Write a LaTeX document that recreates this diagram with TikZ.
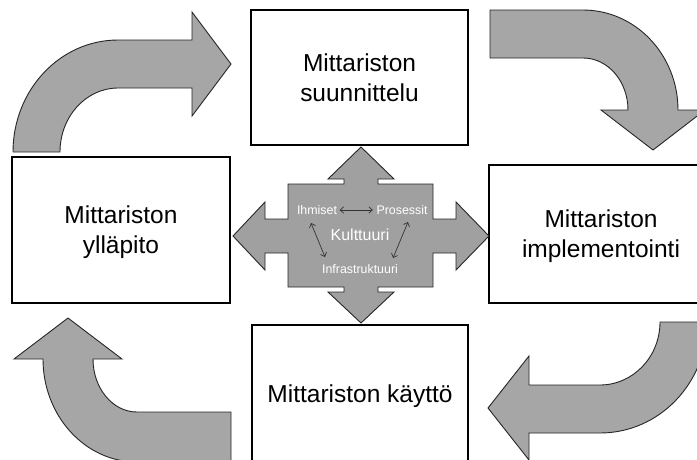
\documentclass[tikz,border=0pt]{standalone}
\usepackage{fontspec}
\setmainfont{Liberation Sans}
\usetikzlibrary{arrows.meta}
\definecolor{arrowgray}{RGB}{166,166,166}
\definecolor{hubgray}{RGB}{160,160,160}

\begin{document}
\begin{tikzpicture}[x=1pt,y=-1pt,
  box/.style={draw=black, line width=1.2pt, fill=white, align=center,
    text depth=0pt, inner sep=0pt, font=\fontsize{24.5}{30}\selectfont},
  turnarrow/.style={fill=arrowgray, draw=black!85, line width=0.9pt, line join=miter},
  hub/.style={fill=hubgray, draw=black!85, line width=0.9pt, line join=miter},
  small/.style={text=white, font=\fontsize{12.4}{14}\selectfont, inner sep=1.5pt},
  big/.style={text=white, font=\fontsize{16}{18}\selectfont, inner sep=1.5pt},
  link/.style={draw=black!80, line width=0.7pt,
    {Straight Barb[length=3.5pt,width=6.5pt]}-{Straight Barb[length=3.5pt,width=6.5pt]}}
]
\useasboundingbox (0,0) rectangle (697,459);
\clip (0,0) rectangle (697,459);

% curved arrows of the cycle
\path[turnarrow] (13,152) .. controls (13,90.1) and (60,40) .. (118,40)
  -- (192,40) -- (192,12) -- (231,64) -- (192,116) -- (192,88) -- (118,88)
  .. controls (86,88) and (60,116.7) .. (60,152) -- cycle;
\path[turnarrow] (490,10) -- (583,10) .. controls (635.5,10) and (678,54.8) .. (678,110)
  -- (705,110) -- (653,150) -- (601,110) -- (628,110)
  .. controls (628,81.3) and (607.9,58) .. (583,58) -- (490,58) -- cycle;
\path[turnarrow] (660,322) -- (707,322) .. controls (707,383.3) and (659.1,433) .. (600,433)
  -- (529,433) -- (529,460) -- (488,408) -- (529,356) -- (529,385) -- (600,385)
  .. controls (633.1,385) and (660,356.8) .. (660,322) -- cycle;
\path[turnarrow] (231,412) -- (137,412) .. controls (112.7,412) and (93,388.3) .. (93,359)
  -- (122,359) -- (68,318) -- (14,359) -- (43,359)
  .. controls (43,415.9) and (85.1,462) .. (137,462) -- (231,462) -- cycle;

% boxes
\node[box, minimum width=217pt, minimum height=135pt] (plan) at (359.5,77.5)
  {Mittariston\\suunnittelu};
\node[box, minimum width=218pt, minimum height=146pt] (keep) at (121,230)
  {Mittariston\\ylläpito};
\node[box, minimum width=224pt, minimum height=138pt] (impl) at (601,234)
  {Mittariston\\implementointi};
\node[box, minimum width=216pt, minimum height=137pt] (use) at (360,393.5)
  {Mittariston käyttö};

% four-way hub
\path[hub] (288,184) -- (344,184) -- (344,179) -- (328,179) -- (361,147)
  -- (394,179) -- (378,179) -- (378,184) -- (433,184) -- (433,219)
  -- (456,219) -- (456,202) -- (489,236) -- (456,270) -- (456,253)
  -- (433,253) -- (433,287) -- (378,287) -- (378,292) -- (394,292)
  -- (361,323) -- (328,292) -- (344,292) -- (344,287) -- (288,287)
  -- (288,253) -- (265,253) -- (265,270) -- (233,236) -- (265,202)
  -- (265,219) -- (288,219) -- cycle;

\node[small] (ih) at (317,210) {Ihmiset};
\node[small] (pr) at (402,210) {Prosessit};
\node[big] (ku) at (360,235) {Kulttuuri};
\node[small] (in) at (360,269) {Infrastruktuuri};

\coordinate (ihlow) at (311,223);
\coordinate (inleft) at (325,257);
\coordinate (prlow) at (408,222);
\coordinate (inright) at (393,258);

\draw[link, shorten <=1pt, shorten >=2pt] (ih) -- (pr);
\draw[link] (ihlow) -- (inleft);
\draw[link] (prlow) -- (inright);
\end{tikzpicture}
\end{document}
